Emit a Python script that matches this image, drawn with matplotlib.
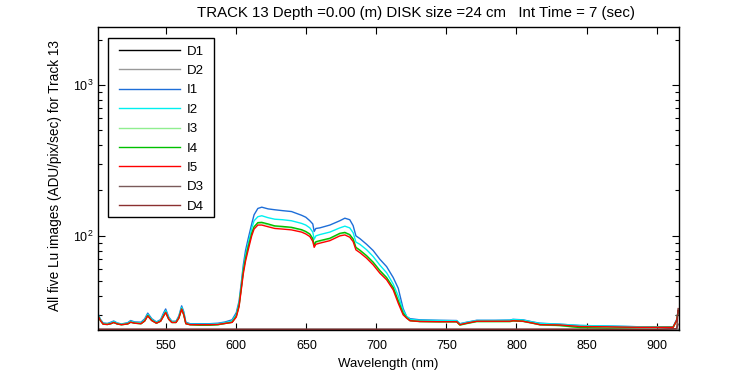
import matplotlib
matplotlib.use("Agg")
import matplotlib.pyplot as plt
from matplotlib.ticker import LogLocator, NullFormatter, FixedLocator
from matplotlib.patches import Rectangle

plt.rcParams['font.family'] = ['Liberation Sans', 'DejaVu Sans']
plt.rcParams['mathtext.fontset'] = 'custom'
plt.rcParams['mathtext.rm'] = 'Liberation Sans'

title = "TRACK 13 Depth =0.00 (m) DISK size =24 cm   Int Time = 7 (sec)"
xlabel = "Wavelength (nm)"
ylabel = "All five Lu images (ADU/pix/sec) for Track 13"
xticks = [550, 600, 650, 700, 750, 800, 850, 900]

wl = [501, 503, 505, 508, 510.5, 512.5, 515, 518, 522.5, 524.6, 527.5, 532, 534.6,
      536.8, 539.6, 543, 546, 548.2, 549.6, 551.8, 554, 557, 559, 561, 562.5, 564,
      567, 574, 581, 587, 592, 597, 600, 602, 603.7, 605, 606.6, 608.4, 611, 612.7,
      615.4, 618.2, 622.7, 627.5, 633, 639.4, 646.6, 649.6, 652.5, 654.6, 655.6,
      656.8, 659.6, 666.8, 673.9, 677.5, 681, 683.4, 685.4, 688.2, 693, 697.7,
      702.5, 707.3, 712, 715.6, 719.1, 721.6, 724, 731, 745, 757.3, 759.6, 764.4,
      771.6, 784.6, 795.4, 797.5, 804.6, 811.8, 816.8, 831, 845.4, 864.6, 888,
      911.8, 914.4, 915.4]

I1 = [31, 28, 26.5, 26.3, 26.8, 27.3, 26.5, 26.1, 26.6, 27.5, 26.9, 26.8, 28.2,
      30.8, 28.3, 26.9, 27.9, 31.0, 32.8, 29.0, 27.2, 27.2, 29.5, 34.4, 31.5, 26.8,
      26.2, 26.2, 26.2, 26.4, 26.9, 27.8, 31, 37, 50, 64, 80, 95, 120, 138,
      152, 155, 151, 149, 147, 145, 137, 133, 126, 120, 107,
      112, 113, 118, 126, 131, 128, 117, 100, 96, 88, 80,
      70, 62.6, 53, 45, 33, 29.2, 28.3, 27.8, 27.6, 27.5, 26.2, 26.8,
      27.6, 27.6, 27.7, 28.0, 27.8, 26.9, 26.4, 26.0, 25.5, 25.3, 25.0,
      25.0, 28, 32]

I2 = [30.5, 27.8, 26.3, 26.2, 26.5, 27.1, 26.4, 26.0, 26.4, 27.2, 26.7, 26.5, 27.8,
      30.2, 28.0, 26.7, 27.6, 30.3, 32.0, 28.6, 27.0, 27.0, 29.0, 33.6, 30.8, 26.5,
      26.0, 26.0, 26.0, 26.2, 26.6, 27.3, 30.0, 35.5, 47, 60, 74, 88, 112, 126,
      134, 136, 132, 129, 128, 126, 121, 118, 113, 106, 95,
      100, 102, 106, 113, 116, 113, 105, 91, 88, 81, 73,
      64, 57, 48, 40, 32, 29.3, 28.0, 27.6, 27.5, 27.4, 26.1, 26.7,
      27.5, 27.5, 27.6, 27.9, 27.7, 26.8, 26.3, 26.0, 25.5, 25.3, 25.0,
      25.0, 27.8, 32]

I3 = [30, 27.5, 26.0, 25.9, 26.2, 26.7, 26.1, 25.8, 26.1, 26.8, 26.4, 26.2, 27.3,
      29.6, 27.5, 26.4, 27.2, 29.6, 31.1, 28.0, 26.7, 26.7, 28.5, 32.7, 30.0, 26.2,
      25.8, 25.6, 25.6, 25.8, 26.3, 26.8, 29.3, 34.5, 46, 58, 70, 83, 103, 114,
      121, 121.5, 118.5, 115.5, 114.5, 113, 109, 106, 102, 95, 86,
      90.5, 92, 95.5, 103, 104.5, 101, 94.5, 83, 80, 73, 66,
      58, 52.5, 45, 36.8, 30.5, 28.6, 27.4, 27.0, 26.9, 26.9, 25.6, 26.2,
      27.0, 27.0, 27.0, 27.3, 27.1, 26.3, 25.7, 25.4, 24.6, 24.5, 24.7,
      24.7, 27.5, 32]

I4 = [30, 27.5, 26.0, 25.9, 26.2, 26.7, 26.1, 25.8, 26.1, 26.8, 26.4, 26.2, 27.3,
      29.7, 27.6, 26.4, 27.3, 29.7, 31.2, 28.1, 26.7, 26.7, 28.6, 32.8, 30.1, 26.2,
      25.8, 25.6, 25.6, 25.8, 26.3, 26.8, 29.4, 34.8, 46.5, 58.5, 71, 84, 104, 115,
      122.5, 123, 120, 116.5, 115.5, 114, 110, 107, 103, 96, 87,
      91.5, 93, 96.5, 104, 105.5, 102, 95.5, 84, 80.5, 74, 67,
      59, 53, 45.5, 37.2, 30.8, 28.7, 27.5, 27.1, 27.0, 27.0, 25.7, 26.3,
      27.1, 27.1, 27.1, 27.4, 27.2, 26.4, 25.8, 25.5, 24.7, 24.5, 24.7,
      24.8, 27.5, 32]

I5 = [30, 27.5, 26.0, 25.9, 26.2, 26.7, 26.1, 25.8, 26.1, 26.8, 26.4, 26.2, 27.3,
      29.5, 27.5, 26.4, 27.2, 29.5, 31.1, 28.0, 26.7, 26.7, 28.5, 32.7, 30.0, 26.2,
      25.8, 25.8, 25.8, 25.9, 26.3, 26.7, 29.0, 34, 45, 56, 68, 80, 100, 111,
      118, 118, 115, 112, 111, 109.6, 106, 103, 99, 92, 84,
      88, 89.5, 93, 100, 101.5, 98, 91.7, 80.8, 77.5, 71.2, 64.3,
      56.6, 51.2, 43.9, 35.8, 30.0, 28.5, 27.4, 27.1, 27.0, 27.0, 25.8, 26.4,
      27.2, 27.2, 27.2, 27.4, 27.2, 26.4, 25.8, 25.7, 25.1, 25.0, 24.8,
      24.8, 27.7, 32]

dark_wl = [501, 550, 600, 650, 700, 750, 800, 850, 900, 914.4, 915.4]
D1 = [24.1, 24.1, 24.1, 24.1, 24.1, 24.1, 24.1, 24.1, 24.1, 24.1, 24.1]
D2 = [24.15, 24.15, 24.15, 24.15, 24.15, 24.15, 24.15, 24.15, 24.15, 24.15, 24.15]
D3 = [24.05, 24.05, 24.05, 24.05, 24.05, 24.05, 24.05, 24.05, 24.05, 24.3, 26]
D4 = [24.0, 24.0, 24.0, 24.0, 24.0, 24.0, 24.0, 24.0, 24.0, 24.3, 33]

series = [
    ("D1", dark_wl, D1, "#000000"),
    ("D2", dark_wl, D2, "#999999"),
    ("I1", wl, I1, "#1e6ed8"),
    ("I2", wl, I2, "#00f0f0"),
    ("I3", wl, I3, "#90ee90"),
    ("I4", wl, I4, "#00c000"),
    ("I5", wl, I5, "#ff0000"),
    ("D3", dark_wl, D3, "#7a5a5a"),
    ("D4", dark_wl, D4, "#8b3030"),
]

W, H = 750, 375
fig = plt.figure(figsize=(7.5, 3.75), dpi=100)
ax = fig.add_axes([98/W, 45/H, (679-98)/W, (330-27.3)/H])

for name, x, y, c in series:
    ax.plot(x, y, color=c, lw=1.0, label=name)

ax.set_yscale('log')
ax.set_xlim(501.3, 916)
ax.set_ylim(23.8, 2410)
ax.xaxis.set_major_locator(FixedLocator(xticks))
ax.yaxis.set_major_locator(LogLocator(base=10, numticks=10))
ax.yaxis.set_minor_locator(LogLocator(base=10, subs=range(2, 10), numticks=20))
ax.yaxis.set_minor_formatter(NullFormatter())
ax.tick_params(which='both', direction='in', top=True, right=True, labelsize=9,
               width=0.8, colors='black')
ax.tick_params(which='major', length=5)
ax.tick_params(which='minor', length=3)
ax.tick_params(axis='x', pad=7.5)
for s in ax.spines.values():
    s.set_linewidth(1.0)

ax.set_xlabel(xlabel, fontsize=9.5, labelpad=4)
ax.set_ylabel(ylabel, fontsize=9.8)
ax.yaxis.set_label_coords(-0.062, 0.51)
fig.text(416/W, 1 - 13/H, title, ha='center', va='center', fontsize=10.8)

leg = ax.legend(loc='upper left', bbox_to_anchor=(119/W, 1 - 45.5/H),
                bbox_transform=fig.transFigure, fontsize=9.5,
                handlelength=4.6, handletextpad=0.53, labelspacing=0.54,
                borderpad=0, frameon=False, borderaxespad=0)
leg.set_zorder(6)
box = Rectangle((108/W, 1 - 217/H), (214-108)/W, (217-38)/H,
                transform=fig.transFigure, fill=True, facecolor='white',
                edgecolor='black', lw=1.0, zorder=5.5, clip_on=False)
ax.add_patch(box)

fig.savefig("out.png", dpi=100)
